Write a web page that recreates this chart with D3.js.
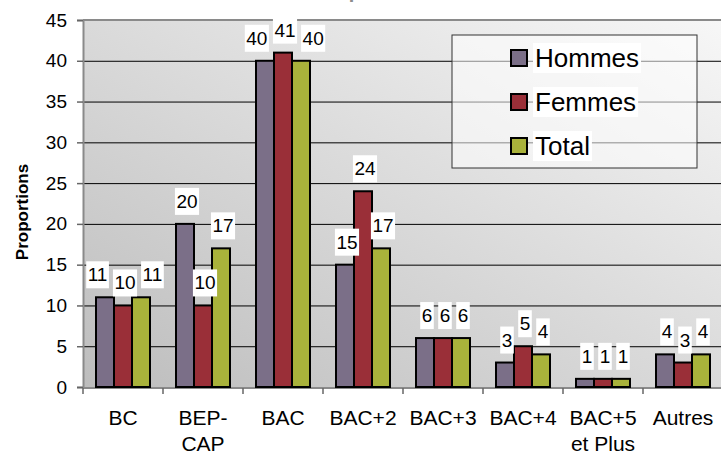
<!DOCTYPE html>
<html>
<head>
<meta charset="utf-8">
<script src="https://cdn.jsdelivr.net/npm/d3@7"></script>
<style>
  html, body { margin: 0; padding: 0; background: #fff; }
  svg { display: block; font-family: "Liberation Sans", Arial, sans-serif; }
</style>
</head>
<body>
<svg id="chart" width="721" height="452"></svg>
<script>
const categories = [["BC"], ["BEP-", "CAP"], ["BAC"], ["BAC+2"], ["BAC+3"], ["BAC+4"], ["BAC+5", "et Plus"], ["Autres"]];
const seriesNames = ["Hommes", "Femmes", "Total"];
const hommes = [11, 20, 40, 15, 6, 3, 1, 4];
const femmes = [10, 10, 41, 24, 6, 5, 1, 3];
const total  = [11, 17, 40, 17, 6, 4, 1, 4];
const yTicks = [0, 5, 10, 15, 20, 25, 30, 35, 40, 45];
const colors = ["#7b6f88", "#9a2f38", "#a9b23b"];
const titleText = "Proportions";
const yTitle = "Proportions";

const FONT = "'Liberation Sans', Arial, sans-serif";
const seriesValues = [hommes, femmes, total];
const svg = d3.select("#chart");
const plot = { left: 83, right: 723, top: 20, bottom: 387 };

const catKeys = categories.map(c => c.join(" "));
const x0 = d3.scaleBand().domain(catKeys).range([plot.left, plot.right]).padding(0);
const x1 = d3.scaleBand().domain(seriesNames).range([13, x0.bandwidth() - 13]).padding(0);
const y = d3.scaleLinear().domain([0, 45]).range([plot.bottom, plot.top]);

// background gradient
const defs = svg.append("defs");
const grad = defs.append("linearGradient").attr("id", "bg")
  .attr("x1", 1).attr("y1", 0).attr("x2", 0).attr("y2", 1);
grad.append("stop").attr("offset", 0).attr("stop-color", "#f7f7f7");
grad.append("stop").attr("offset", 1).attr("stop-color", "#bdbdbd");

svg.append("rect")
  .attr("x", plot.left).attr("y", plot.top)
  .attr("width", plot.right - plot.left).attr("height", plot.bottom - plot.top)
  .attr("fill", "url(#bg)");

// title (mostly cut off at top)
svg.append("text").attr("x", 372).attr("y", -2)
  .attr("text-anchor", "middle").attr("font-size", 20).attr("font-weight", "bold")
  .attr("font-family", FONT).attr("fill", "#8c8c8c").text(titleText);

// gridlines
svg.append("g").selectAll("line").data(yTicks.filter(t => t > 0 && t < 45)).join("line")
  .attr("x1", plot.left).attr("x2", plot.right)
  .attr("y1", d => y(d) + 0.5).attr("y2", d => y(d) + 0.5)
  .attr("stroke", "#000").attr("stroke-width", 1);

// top border
svg.append("line").attr("x1", plot.left).attr("x2", plot.right)
  .attr("y1", plot.top).attr("y2", plot.top)
  .attr("stroke", "#8a8a8a").attr("stroke-width", 2);

// y axis
const yAxis = d3.axisLeft(y).tickValues(yTicks).tickSize(6).tickPadding(10);
const gy = svg.append("g").attr("transform", `translate(${plot.left},0)`).call(yAxis);
gy.select(".domain").attr("stroke", "#8a8a8a").attr("stroke-width", 2);
gy.selectAll(".tick line").attr("stroke", "#666").attr("stroke-width", 1.5);
gy.selectAll(".tick text").attr("font-size", 19).attr("fill", "#000").attr("font-family", FONT);

// x axis
const gx = svg.append("g").attr("transform", `translate(0,${plot.bottom + 1})`);
gx.append("line").attr("x1", plot.left).attr("x2", plot.right).attr("y1", 0).attr("y2", 0)
  .attr("stroke", "#8a8a8a").attr("stroke-width", 2);
const boundaries = catKeys.map(k => x0(k)).concat([plot.right]);
gx.selectAll("line.tk").data(boundaries).join("line").attr("class", "tk")
  .attr("x1", d => d).attr("x2", d => d).attr("y1", 0).attr("y2", 6)
  .attr("stroke", "#666").attr("stroke-width", 1.5);
const catText = gx.selectAll("text.cat").data(categories).join("text").attr("class", "cat")
  .attr("x", (d, i) => x0(catKeys[i]) + x0.bandwidth() / 2)
  .attr("y", 37).attr("text-anchor", "middle").attr("font-size", 21)
  .attr("font-family", FONT).attr("fill", "#000");
catText.each(function(d) {
  const t = d3.select(this);
  d.forEach((line, j) => {
    t.append("tspan").attr("x", t.attr("x")).attr("dy", j === 0 ? 0 : 26).text(line);
  });
});

// bars
const groups = svg.append("g").selectAll("g").data(catKeys).join("g")
  .attr("transform", d => `translate(${x0(d)},0)`);
groups.selectAll("rect").data((d, i) => seriesNames.map((s, j) => ({ s, j, v: seriesValues[j][i] })))
  .join("rect")
  .attr("x", d => x1(d.s)).attr("y", d => y(d.v))
  .attr("width", x1.bandwidth()).attr("height", d => y(0) - y(d.v))
  .attr("fill", d => colors[d.j]).attr("stroke", "#000").attr("stroke-width", 2);

// data labels with simple horizontal collision avoidance
const labelLayer = svg.append("g");
const boxH = 27, gapBelow = 9, gapX = 4;
catKeys.forEach((k, i) => {
  const labs = seriesNames.map((s, j) => {
    const v = seriesValues[j][i];
    const g = labelLayer.append("g");
    const rect = g.append("rect").attr("fill", "#fff");
    const txt = g.append("text").attr("font-size", 19).attr("font-family", FONT)
      .attr("text-anchor", "middle").attr("fill", "#000").text(v);
    const w = txt.node().getComputedTextLength() + 3;
    const bottom = y(v) - gapBelow;
    return { g, rect, txt, w, cx: x0(k) + x1(s) + x1.bandwidth() / 2 + 2, top: bottom - boxH, bottom };
  });
  for (let it = 0; it < 40; it++) {
    for (let a = 0; a < labs.length - 1; a++) {
      const A = labs[a], B = labs[a + 1];
      const vOverlap = A.top < B.bottom && B.top < A.bottom;
      if (!vOverlap) continue;
      const need = (A.w + B.w) / 2 + gapX;
      const sep = B.cx - A.cx;
      if (sep < need) { const d = (need - sep) / 2; A.cx -= d; B.cx += d; }
    }
  }
  labs.forEach(L => {
    L.rect.attr("x", L.cx - L.w / 2).attr("y", L.top).attr("width", L.w).attr("height", boxH);
    L.txt.attr("x", L.cx).attr("y", L.top + 20);
  });
});

// y title
svg.append("text").attr("transform", "translate(28,212) rotate(-90)")
  .attr("text-anchor", "middle").attr("font-size", 17).attr("font-weight", "bold")
  .attr("font-family", FONT).attr("fill", "#000").text(yTitle);

// legend
const lg = svg.append("g").attr("transform", "translate(452,35)");
lg.append("rect").attr("width", 245).attr("height", 133)
  .attr("fill", "#fff").attr("fill-opacity", 0.55).attr("stroke", "#333").attr("stroke-width", 1);
seriesNames.forEach((s, j) => {
  const row = lg.append("g").attr("transform", `translate(0,${23 + j * 44})`);
  const t = row.append("text").attr("x", 83).attr("y", 9).attr("font-size", 26)
    .attr("font-family", FONT).attr("fill", "#000").text(s);
  const tw = t.node().getComputedTextLength();
  row.insert("rect", "text").attr("x", 81).attr("y", -15).attr("width", tw + 4).attr("height", 30).attr("fill", "#fff");
  row.append("rect").attr("x", 59).attr("y", -8).attr("width", 16).attr("height", 16)
    .attr("fill", colors[j]).attr("stroke", "#000").attr("stroke-width", 2);
});
</script>
</body>
</html>
